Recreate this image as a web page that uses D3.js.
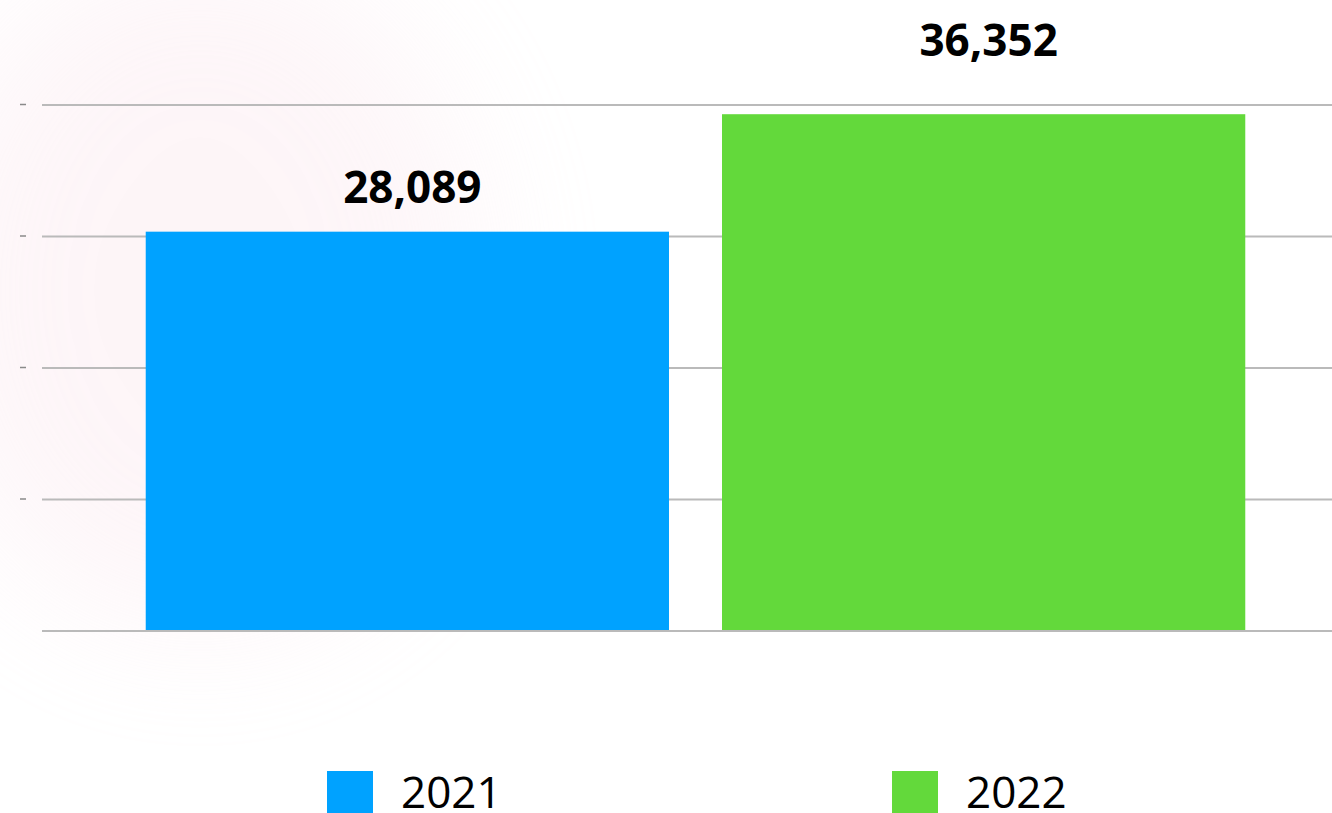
<!DOCTYPE html>
<html>
<head>
<meta charset="utf-8">
<script src="https://cdn.jsdelivr.net/npm/d3@7"></script>
<style>
  html, body { margin: 0; padding: 0; background: #fff; overflow: hidden; }
  svg { display: block; }
</style>
</head>
<body>
<script>
// data
const years = ["2021", "2022"];
const values = [28089, 36352];
const colors = ["#00a2ff", "#63d93b"];
const gridValues = [0, 9250, 18500, 27750, 37000];

const w = 1332;
const h = 813;

const svg = d3.select("body")
    .append("svg")
    .attr("width", w)
    .attr("height", h);

// faint pink glow in the top-left corner
const defs = svg.append("defs");
defs.append("filter")
    .attr("id", "blur")
    .attr("x", "-60%").attr("y", "-60%")
    .attr("width", "220%").attr("height", "220%")
    .append("feGaussianBlur")
    .attr("stdDeviation", 70);

svg.append("ellipse")
    .attr("cx", 200)
    .attr("cy", 290)
    .attr("rx", 280)
    .attr("ry", 340)
    .attr("fill", "#f9dde6")
    .attr("opacity", 0.28)
    .attr("filter", "url(#blur)");

// scales
const xScale = d3.scaleBand()
    .domain(years)
    .range([42, 1349])
    .paddingInner(0.092)
    .paddingOuter(0.18);

const yScale = d3.scaleLinear()
    .domain([0, d3.max(gridValues)])
    .range([631, 105]);

// gridlines
svg.append("g")
    .selectAll("line")
    .data(gridValues)
    .enter()
    .append("line")
    .attr("x1", 42)
    .attr("x2", w)
    .attr("y1", d => yScale(d))
    .attr("y2", d => yScale(d))
    .attr("stroke", "#bababa")
    .attr("stroke-width", 2);

// little tick dashes on the left (no labels)
svg.append("g")
    .selectAll("line")
    .data(gridValues.slice(1))
    .enter()
    .append("line")
    .attr("x1", 20)
    .attr("x2", 26)
    .attr("y1", d => yScale(d) - 0.5)
    .attr("y2", d => yScale(d) - 0.5)
    .attr("stroke", "#8a8a8a")
    .attr("stroke-width", 1.5);

// bars
svg.append("g")
    .selectAll("rect")
    .data(values)
    .enter()
    .append("rect")
    .attr("x", (d, i) => xScale(years[i]))
    .attr("y", d => yScale(d))
    .attr("width", xScale.bandwidth())
    .attr("height", d => yScale(0) - 1 - yScale(d))
    .attr("fill", (d, i) => colors[i]);

// value labels
const labelLift = [29, 58];
svg.append("g")
    .selectAll("text")
    .data(values)
    .enter()
    .append("text")
    .attr("x", (d, i) => xScale(years[i]) + xScale.bandwidth() / 2 + 5)
    .attr("y", (d, i) => yScale(d) - labelLift[i])
    .attr("text-anchor", "middle")
    .attr("font-family", "'Open Sans', 'Noto Sans', sans-serif")
    .attr("font-weight", 700)
    .attr("font-size", 44)
    .attr("fill", "#000")
    .text(d => d3.format(",")(d));

// legend
const legendX = [327, 892];
const legend = svg.append("g")
    .selectAll("g")
    .data(years)
    .enter()
    .append("g")
    .attr("transform", (d, i) => "translate(" + legendX[i] + ",771)");

legend.append("rect")
    .attr("width", 46)
    .attr("height", 46)
    .attr("fill", (d, i) => colors[i]);

legend.append("text")
    .attr("x", 74)
    .attr("y", 37)
    .attr("font-family", "'Open Sans', 'Noto Sans', sans-serif")
    .attr("font-size", 44)
    .attr("fill", "#000")
    .text(d => d);
</script>
</body>
</html>
